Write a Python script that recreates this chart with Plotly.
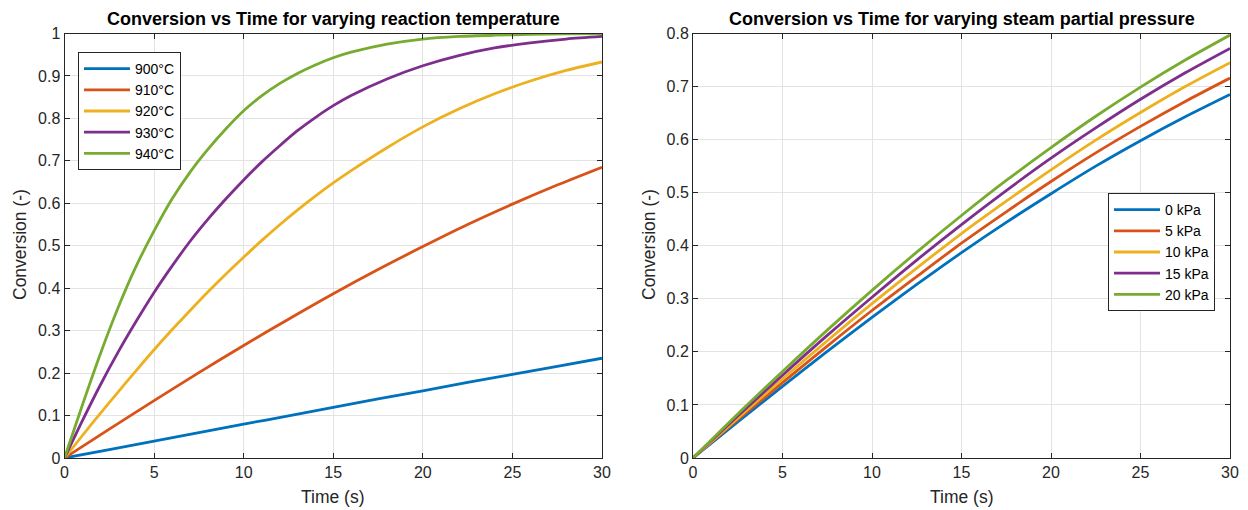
import plotly.graph_objects as go

# ---------------- data ----------------
temp_labels = ["900°C", "910°C", "920°C", "930°C", "940°C"]
time_a = [0, 2.5, 5, 7.5, 10, 12.5, 15, 17.5, 20, 22.5, 25, 27.5, 30]
conv_900 = [0, 0.020, 0.040, 0.060, 0.080, 0.099, 0.119, 0.139, 0.158, 0.178, 0.197, 0.216, 0.235]
conv_910 = [0, 0.068, 0.135, 0.201, 0.265, 0.327, 0.387, 0.444, 0.498, 0.550, 0.598, 0.643, 0.685]
time_b = [0, 1, 2, 3, 4, 5, 6, 7, 8, 9, 10, 11, 12, 13, 14, 15, 16, 18, 20, 22, 24, 26, 28, 30]
conv_920 = [0, 0.053, 0.105, 0.156, 0.206, 0.255, 0.302, 0.347, 0.391, 0.433, 0.473, 0.512, 0.549, 0.584, 0.617, 0.648, 0.677, 0.731, 0.780, 0.822, 0.858, 0.888, 0.913, 0.933]
conv_930 = [0, 0.088, 0.172, 0.250, 0.322, 0.390, 0.452, 0.510, 0.562, 0.610, 0.655, 0.697, 0.735, 0.771, 0.802, 0.830, 0.854, 0.893, 0.924, 0.948, 0.966, 0.978, 0.987, 0.993]
conv_940 = [0, 0.125, 0.245, 0.355, 0.452, 0.535, 0.610, 0.673, 0.727, 0.775, 0.818, 0.853, 0.882, 0.906, 0.926, 0.943, 0.956, 0.975, 0.987, 0.993, 0.996, 0.998, 0.999, 1.000]

press_labels = ["0 kPa", "5 kPa", "10 kPa", "15 kPa", "20 kPa"]
time_p = [0, 2.5, 5, 7.5, 10, 12.5, 15, 17.5, 20, 22.5, 25, 27.5, 30]
conv_0kpa = [0, 0.068, 0.135, 0.201, 0.265, 0.327, 0.387, 0.444, 0.498, 0.550, 0.598, 0.643, 0.685]
conv_5kpa = [0, 0.072, 0.142, 0.211, 0.278, 0.342, 0.405, 0.464, 0.521, 0.575, 0.625, 0.672, 0.716]
conv_10kpa = [0, 0.075, 0.149, 0.221, 0.291, 0.358, 0.423, 0.484, 0.543, 0.599, 0.651, 0.700, 0.745]
conv_15kpa = [0, 0.079, 0.156, 0.231, 0.303, 0.373, 0.440, 0.504, 0.565, 0.622, 0.676, 0.726, 0.772]
conv_20kpa = [0, 0.083, 0.163, 0.241, 0.316, 0.388, 0.457, 0.523, 0.585, 0.644, 0.699, 0.750, 0.797]

x_ticks = [0, 5, 10, 15, 20, 25, 30]
y_ticks_left = [0, 0.1, 0.2, 0.3, 0.4, 0.5, 0.6, 0.7, 0.8, 0.9, 1]
y_ticks_right = [0, 0.1, 0.2, 0.3, 0.4, 0.5, 0.6, 0.7, 0.8]

colors = ["#0072BD", "#D95319", "#EDB120", "#7E2F8E", "#77AC30"]

W, H = 1248, 510
FONT = "Liberation Sans, Arial, Helvetica, sans-serif"
TXT = "#262626"

fig = go.Figure()
left_x = [time_a, time_a, time_b, time_b, time_b]
left_y = [conv_900, conv_910, conv_920, conv_930, conv_940]
for name, xs, ys, c in zip(temp_labels, left_x, left_y, colors):
    fig.add_trace(go.Scatter(x=xs, y=ys, name=name, mode="lines",
                             line=dict(color=c, width=2.8, shape="spline", smoothing=0.8),
                             xaxis="x", yaxis="y", legend="legend"))
right_y = [conv_0kpa, conv_5kpa, conv_10kpa, conv_15kpa, conv_20kpa]
for name, ys, c in zip(press_labels, right_y, colors):
    fig.add_trace(go.Scatter(x=time_p, y=ys, name=name, mode="lines",
                             line=dict(color=c, width=2.8, shape="spline", smoothing=0.8),
                             xaxis="x2", yaxis="y2", legend="legend2"))

def px_x(p):
    return p / W

def px_y(p):
    return 1 - p / H

top, bot = 33.5, 458
ydom = [px_y(bot), px_y(top)]

axis_common = dict(showline=True, linecolor=TXT, linewidth=1, mirror="ticks",
                   ticks="inside", ticklen=5, tickcolor=TXT, automargin=False,
                   showgrid=True, gridcolor="#e3e3e3", gridwidth=1,
                   zeroline=False, tickfont=dict(family=FONT, size=16, color=TXT))

legend_common = dict(xanchor="left", yanchor="top", bgcolor="white",
                     bordercolor=TXT, borderwidth=1,
                     font=dict(family=FONT, size=14, color="black"),
                     tracegroupgap=0, itemwidth=46)

fig.update_layout(
    width=W, height=H,
    margin=dict(l=0, r=0, t=0, b=0),
    paper_bgcolor="white", plot_bgcolor="white",
    xaxis=dict(domain=[px_x(64.5), px_x(602)], range=[0, 30], tickvals=x_ticks,
               anchor="y", **axis_common),
    yaxis=dict(domain=ydom, range=[0, 1], tickvals=y_ticks_left,
               ticktext=[f"{v:g}" for v in y_ticks_left], anchor="x", **axis_common),
    xaxis2=dict(domain=[px_x(693), px_x(1230)], range=[0, 30], tickvals=x_ticks,
                anchor="y2", **axis_common),
    yaxis2=dict(domain=ydom, range=[0, 0.8], tickvals=y_ticks_right,
                ticktext=[f"{v:g}" for v in y_ticks_right], anchor="x2", **axis_common),
    legend=dict(x=px_x(78), y=px_y(52), **legend_common),
    legend2=dict(x=px_x(1108), y=px_y(193), **legend_common),
    annotations=[
        dict(text="<b>Conversion vs Time for varying reaction temperature</b>",
             x=px_x(333), y=px_y(19), xref="paper", yref="paper", showarrow=False,
             xanchor="center", yanchor="middle", font=dict(family=FONT, size=18, color="black")),
        dict(text="<b>Conversion vs Time for varying steam partial pressure</b>",
             x=px_x(961.5), y=px_y(19), xref="paper", yref="paper", showarrow=False,
             xanchor="center", yanchor="middle", font=dict(family=FONT, size=18, color="black")),
        dict(text="Time (s)", x=px_x(333), y=px_y(497), xref="paper", yref="paper",
             showarrow=False, xanchor="center", yanchor="middle",
             font=dict(family=FONT, size=17.5, color=TXT)),
        dict(text="Time (s)", x=px_x(961.5), y=px_y(497), xref="paper", yref="paper",
             showarrow=False, xanchor="center", yanchor="middle",
             font=dict(family=FONT, size=17.5, color=TXT)),
        dict(text="Conversion (-)", x=px_x(20), y=px_y(245), xref="paper", yref="paper",
             showarrow=False, xanchor="center", yanchor="middle", textangle=-90,
             font=dict(family=FONT, size=17.5, color=TXT)),
        dict(text="Conversion (-)", x=px_x(649), y=px_y(245), xref="paper", yref="paper",
             showarrow=False, xanchor="center", yanchor="middle", textangle=-90,
             font=dict(family=FONT, size=17.5, color=TXT)),
    ],
)

fig.write_html("out.html", config={"displayModeBar": False},
               post_script=["document.body.style.margin='0px';"
                            "document.body.style.padding='0px';"
                            "document.body.style.overflow='hidden';"])
